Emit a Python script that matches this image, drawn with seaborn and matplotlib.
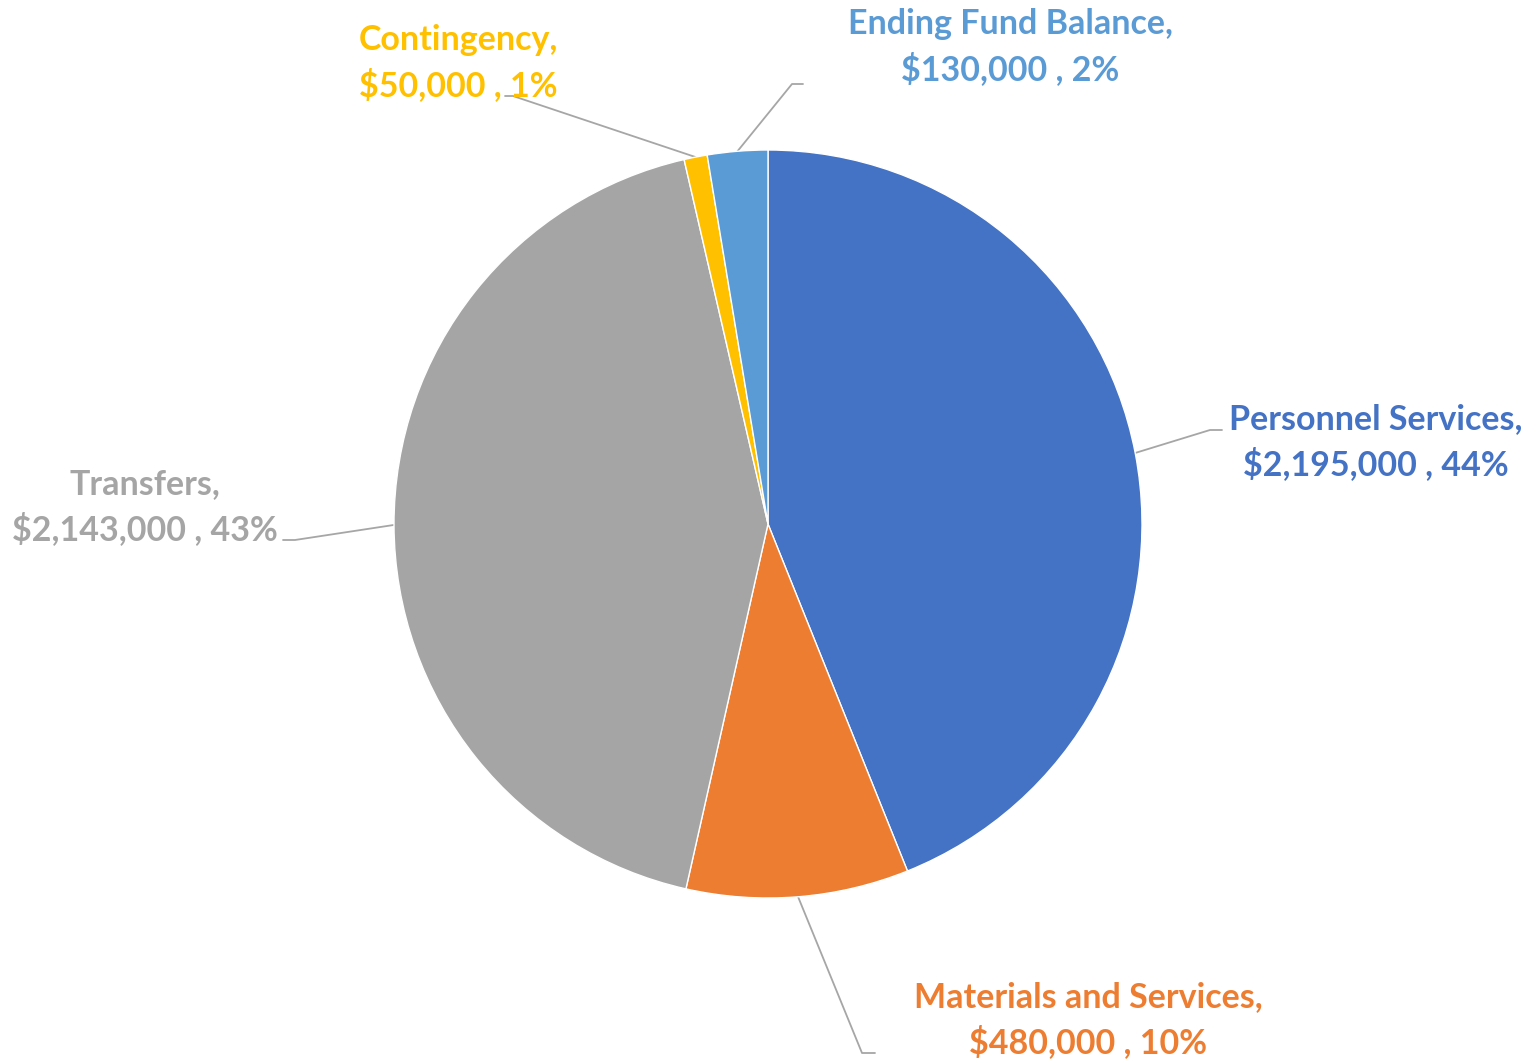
import numpy as np
import seaborn as sns
import matplotlib.pyplot as plt

# budget categories (clockwise from 12 o'clock)
categories = ["Personnel Services", "Materials and Services", "Transfers",
              "Contingency", "Ending Fund Balance"]
amounts = [2195000, 480000, 2143000, 50000, 130000]
percent_labels = ["44%", "10%", "43%", "1%", "2%"]
colors = ["#4472C4", "#ED7D31", "#A5A5A5", "#FFC000", "#5B9BD5"]

sns.set_style("white")
plt.rcParams['font.family'] = ['Lato', 'DejaVu Sans']

W, H = 1537, 1063
fig = plt.figure(figsize=(W / 100, H / 100), dpi=100)
ax = fig.add_axes([0, 0, 1, 1])

cx, cy, r = 768, H - 524, 374
wedges, _ = ax.pie(amounts, colors=colors, startangle=90, counterclock=False,
                   center=(cx, cy), radius=r, frame=True,
                   wedgeprops=dict(linewidth=1, edgecolor="white"))

# label block centres and leader line elbows (pixel coords, y down)
label_pos = [(1376, 442), (1088, 1020), (145, 507), (458, 63), (1010, 47)]
elbows = [((1210, 430), (1222, 430)),
          ((862, 1053), (875, 1053)),
          ((295, 540), (283, 540)),
          ((513, 96), (505, 96)),
          ((792, 84), (803, 84))]

for w, name, amt, pct, col, (lx, ly), (e1, e2) in zip(
        wedges, categories, amounts, percent_labels, colors, label_pos, elbows):
    mid = np.deg2rad((w.theta1 + w.theta2) / 2)
    px, py = cx + r * np.cos(mid), cy + r * np.sin(mid)
    ax.plot([px, e1[0], e2[0]], [py, H - e1[1], H - e2[1]],
            color="#A6A6A6", lw=1.3, zorder=0)
    ax.text(lx, H - ly, f"{name},\n${amt:,} , {pct}", color=col,
            fontsize=24.5, fontweight="bold", ha="center", va="center",
            linespacing=1.45)

ax.set_xlim(0, W)
ax.set_ylim(0, H)
ax.set_aspect("equal")
ax.axis("off")

fig.savefig("out.png", dpi=100)
